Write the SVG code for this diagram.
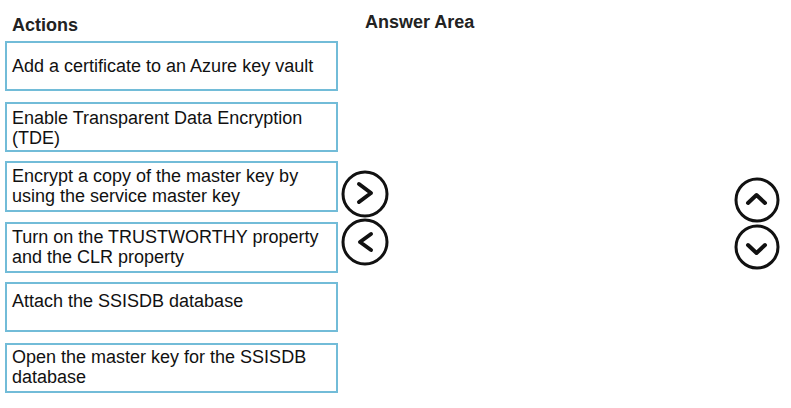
<svg xmlns="http://www.w3.org/2000/svg" width="791" height="408" viewBox="0 0 791 408">
<style>
.bg{fill:#ffffff}
.box{fill:#ffffff;stroke:#72bcd8;stroke-width:2}
.t{font-family:"Liberation Sans",Arial,sans-serif;font-size:18px;fill:#111111}
.h{font-family:"Liberation Sans",Arial,sans-serif;font-size:18px;font-weight:bold;fill:#222222}
.btn{fill:#ffffff;stroke:#111111;stroke-width:3}
.chev{fill:none;stroke:#111111;stroke-width:4;stroke-linecap:round;stroke-linejoin:round}
</style>
<rect class="bg" x="0" y="0" width="791" height="408"/>
<g id="header-actions"><text class="h" x="12" y="31">Actions</text></g>
<g id="header-answer"><text class="h" x="365" y="28">Answer Area</text></g>
<g id="action1">
<rect class="box" x="6" y="42" width="331" height="48"/>
<text class="t" x="12" y="72">Add a certificate to an Azure key vault</text>
</g>
<g id="action2">
<rect class="box" x="6" y="103" width="331" height="48"/>
<text class="t" x="12" y="124">Enable Transparent Data Encryption</text>
<text class="t" x="12" y="144">(TDE)</text>
</g>
<g id="action3">
<rect class="box" x="6" y="162" width="331" height="49"/>
<text class="t" x="12" y="182">Encrypt a copy of the master key by</text>
<text class="t" x="12" y="202">using the service master key</text>
</g>
<g id="action4">
<rect class="box" x="6" y="223" width="331" height="49"/>
<text class="t" x="12" y="243">Turn on the TRUSTWORTHY property</text>
<text class="t" x="12" y="263">and the CLR property</text>
</g>
<g id="action5">
<rect class="box" x="6" y="283" width="331" height="48"/>
<text class="t" x="12" y="307">Attach the SSISDB database</text>
</g>
<g id="action6">
<rect class="box" x="6" y="344" width="331" height="48"/>
<text class="t" x="12" y="363">Open the master key for the SSISDB</text>
<text class="t" x="12" y="383">database</text>
</g>
<g id="btn-right">
<circle class="btn" cx="365" cy="194" r="22"/>
<polyline class="chev" points="359,184 371,193 359,202"/>
</g>
<g id="btn-left">
<circle class="btn" cx="365" cy="242" r="22"/>
<polyline class="chev" points="371,234 360,242 371,250"/>
</g>
<g id="btn-up">
<circle class="btn" cx="757" cy="200" r="21"/>
<polyline class="chev" points="748,203 756.5,195 765,203"/>
</g>
<g id="btn-down">
<circle class="btn" cx="757" cy="247" r="21"/>
<polyline class="chev" points="748,245 756.5,253 765,245"/>
</g>
<g id="connectors"></g>
</svg>
